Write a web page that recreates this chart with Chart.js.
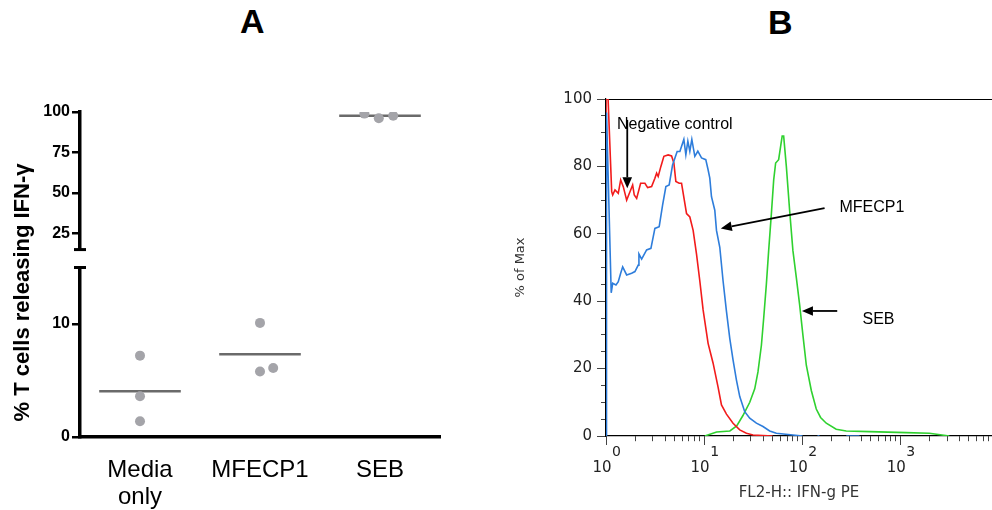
<!DOCTYPE html>
<html lang="en">
<head>
<meta charset="UTF-8">
<title>IFN-gamma release by T cells</title>
<script src="https://cdn.jsdelivr.net/npm/chart.js"></script>
<style>
  body { margin: 0; width: 992px; height: 510px; overflow: hidden; background: #fff; position: relative;
         font-family: "Liberation Sans", Arial, sans-serif; }
  .tag { position: absolute; font-weight: bold; font-size: 34px; line-height: 34px; color: #000; }
  #wrapA { position: absolute; left: 0; top: 0; }
  #wrapB { position: absolute; left: 500px; top: 60px; }
</style>
</head>
<body>
<div class="tag" style="left:240px; top:4px;">A</div>
<div class="tag" style="left:768px; top:5px;">B</div>
<div id="wrapA"><canvas id="chartA" width="460" height="510"></canvas></div>
<div id="wrapB"><canvas id="chartB" width="492" height="450"></canvas></div>

<script>
// ---- panel A: % T cells releasing IFN-g ----
const groupNames = [['Media', 'only'], 'MFECP1', 'SEB'];
const groupPos = [1, 2, 3];
const mediaX = [1, 1, 1];
const mediaY = [7.2, 3.6, 1.4];
const mfecpX = [2, 2, 2.11];
const mfecpY = [10.1, 5.8, 6.1];
const sebX = [2.87, 2.99, 3.11];
const sebY = [99, 96.1, 97.7];
const groupMeans = [4.05, 7.33, 97.7];
const lowTicks = [0, 10];
const highTicks = [25, 50, 75, 100];
const axisBreak = 15;

// ---- panel B: histogram, % of max vs FL2-H (log) ----
const negControl = [[1, 0], [1, 100], [1.05, 100], [1.143, 72.5], [1.17, 71.5], [1.235, 73], [1.334, 72], [1.411, 76],
  [1.5, 74], [1.624, 70], [1.755, 72.5], [1.869, 74.5], [1.941, 71.5], [2.053, 70.5], [2.254, 75], [2.493, 75],
  [2.657, 73.7], [2.917, 74], [3.151, 76.5], [3.28, 78], [3.404, 77], [3.627, 80], [3.89, 83], [4.303, 83.4],
  [4.66, 83.1], [4.918, 81], [5.153, 75.5], [5.567, 75], [5.889, 75], [6.622, 66], [7.153, 65], [7.731, 61],
  [8.369, 54], [9.044, 46], [9.768, 37.4], [10.98, 27.5], [12.35, 21.6], [13.88, 14.5], [15.03, 9.2], [16.9, 6.5],
  [19.72, 3.8], [23.08, 1.8], [27, 0.8], [31.5, 0.3], [50, 0]];
const mfecp1 = [[1, 0], [1.012, 96], [1.13, 42.5], [1.17, 45.3], [1.264, 44.8], [1.334, 45.8], [1.411, 48.3],
  [1.479, 50.2], [1.624, 47.8], [1.826, 48.3], [1.972, 48.8], [2.131, 50.7], [2.166, 54], [2.308, 52.5],
  [2.594, 55.2], [2.87, 55.7], [3.151, 61.6], [3.485, 62.1], [3.774, 68.5], [4.077, 74], [4.405, 74.5],
  [4.769, 80.4], [5.313, 84.4], [5.66, 84.4], [6.216, 88], [6.514, 83.5], [6.826, 87.5], [7.153, 84.5],
  [7.496, 88], [8.043, 83], [8.627, 84.5], [9.41, 82.5], [10.4, 82], [10.98, 79], [11.43, 76.5], [11.89, 71],
  [12.85, 67], [13.37, 61], [14.45, 56], [15.61, 46], [16.9, 37], [18.26, 29], [19.72, 22.6], [21.36, 16.6],
  [23.08, 11.7], [25.94, 7.2], [29.17, 5.3], [34.13, 3.8], [39.83, 2.8], [46.6, 1.5], [54.5, 0.8], [80.4, 0.3],
  [100.9, 0], [120, null], [143, 0], [150, 0], [200, null], [281, 0], [384, 0]];
const seb = [[10.17, 0], [13.4, 1.2], [18.3, 1.5], [21.5, 3], [24.8, 6], [29.2, 10], [32.8, 14], [35.4, 19],
  [38.4, 27], [40.5, 35], [43.1, 45], [45.5, 55], [48.5, 66], [51.2, 76], [53.6, 81], [57.5, 82], [60.3, 86],
  [62.5, 89], [64.7, 89], [68.9, 80], [74.4, 67], [80.4, 55], [87.1, 47], [94.1, 39], [101.6, 30], [110.1, 21],
  [123.8, 13.5], [139.1, 8], [153.9, 5.5], [175.9, 3.8], [222, 2], [281, 1.5], [485, 1.3], [1146, 1], [1977, 0.8],
  [3158, 0]];
const xDecades = [1, 10, 100, 1000];
const xDecadeExp = ['0', '1', '2', '3'];
const xMinor = [2, 3, 4, 5, 6, 7, 8, 9, 20, 30, 40, 50, 60, 70, 80, 90, 200, 300, 400, 500, 600, 700, 800, 900,
  2000, 3000, 4000, 5000, 6000, 7000, 8000];
const yMajor = [0, 20, 40, 60, 80, 100];
const yMinor = [5, 10, 15, 25, 30, 35, 45, 50, 55, 65, 70, 75, 85, 90, 95];
const notes = [
  { text: 'Negative control', at: [1.294, 92.3], from: [1.647, 93.8], to: [1.647, 73.5] },
  { text: 'MFECP1', at: [240, 67.7], from: [169, 67.6], to: [14.79, 61.6] },
  { text: 'SEB', at: [411.6, 34.6], from: [227.5, 37.1], to: [99.3, 37.1] }
];

Chart.defaults.font.family = '"Liberation Sans", Arial, sans-serif';
Chart.defaults.animation = false;

const pts = (xs, ys) => xs.map((x, i) => ({ x: x, y: ys[i] }));
const side = v => (v > axisBreak ? 'yHigh' : 'yLow');
const meanHalf = 0.34;

const dotStyle = { showLine: false, pointRadius: 5, pointBackgroundColor: '#a4a4a9', pointBorderWidth: 0 };
const dotSets = [[mediaX, mediaY], [mfecpX, mfecpY], [sebX, sebY]].map(([xs, ys]) =>
  Object.assign({ data: pts(xs, ys), yAxisID: side(ys[0]) }, dotStyle));
const meanSets = groupMeans.map((m, i) => ({
  data: [{ x: groupPos[i] - meanHalf, y: m }, { x: groupPos[i] + meanHalf, y: m }],
  yAxisID: side(m), showLine: true, pointRadius: 0, borderColor: '#6a6a6a', borderWidth: 2.5
}));

const breakMarks = {
  id: 'breakMarks',
  afterDraw(chart) {
    const { ctx, scales: { yLow, yHigh } } = chart;
    const x = yLow.right;
    ctx.save();
    ctx.strokeStyle = '#000';
    ctx.lineWidth = 3;
    [yHigh.bottom, yLow.top].forEach(y => {
      ctx.beginPath(); ctx.moveTo(x - 6, y); ctx.lineTo(x + 6, y); ctx.stroke();
    });
    ctx.translate(x - 57, (yHigh.top + yLow.bottom) / 2 + 18);
    ctx.rotate(-Math.PI / 2);
    ctx.font = 'bold 22px "Liberation Sans"';
    ctx.fillStyle = '#000';
    ctx.textAlign = 'center';
    ctx.textBaseline = 'middle';
    ctx.fillText('% T cells releasing IFN-\u03b3', 0, 0);
    ctx.restore();
  }
};

const yTickFontA = { size: 16, weight: 'bold' };
const yPartA = (min, max, weight, ticks) => ({
  type: 'linear', position: 'left', stack: 'left', stackWeight: weight, min: min, max: max,
  afterBuildTicks: s => { s.ticks = ticks.map(v => ({ value: v })); },
  afterFit: s => { s.width = 80; },
  grid: { drawOnChartArea: false, color: '#000', lineWidth: 2.5, tickLength: 8 },
  border: { color: '#000', width: 3.5 },
  ticks: { color: '#000', font: yTickFontA, padding: 2, autoSkip: false }
});

new Chart(document.getElementById('chartA'), {
  type: 'scatter',
  data: { datasets: dotSets.concat(meanSets) },
  options: {
    responsive: false,
    layout: { padding: { top: 112, right: 20, left: 0, bottom: 0 } },
    plugins: { legend: { display: false }, tooltip: { enabled: false } },
    scales: {
      x: {
        type: 'linear', min: 0.5, max: 3.5,
        afterBuildTicks: s => { s.ticks = groupPos.map(v => ({ value: v })); },
        afterFit: s => { s.height = 73; },
        grid: { display: false },
        border: { color: '#000', width: 3.5 },
        ticks: {
          color: '#000', font: { size: 24, lineHeight: 1.12 }, padding: 12, autoSkip: false, maxRotation: 0,
          callback: v => groupNames[groupPos.indexOf(v)]
        }
      },
      yLow: yPartA(0, axisBreak, 170, lowTicks),
      yGap: {
        type: 'linear', position: 'left', stack: 'left', stackWeight: 18,
        afterFit: s => { s.width = 80; },
        grid: { display: false }, border: { display: false }, ticks: { display: false }
      },
      yHigh: yPartA(axisBreak, 100, 138, highTicks)
    }
  },
  plugins: [breakMarks]
});

// ---- panel B ----
const asXY = arr => arr.map(([x, y]) => ({ x: x, y: y }));
const curve = (arr, color) => ({
  data: asXY(arr), showLine: true, pointRadius: 0, borderColor: color, borderWidth: 1.6, tension: 0, spanGaps: false
});
const fontB = { family: '"DejaVu Sans", sans-serif', size: 15 };
const xLabelShift = -4;
const xLabelPad = 14;

const xTicksB = xDecades.map(v => ({ value: v, major: true }))
  .concat(xMinor.map(v => ({ value: v, major: false })))
  .sort((a, b) => a.value - b.value);
const yTicksB = yMajor.map(v => ({ value: v, major: true }))
  .concat(yMinor.map(v => ({ value: v, major: false })))
  .sort((a, b) => a.value - b.value);

const extras = {
  id: 'extras',
  afterDraw(chart) {
    const { ctx, scales: { x, y } } = chart;
    ctx.save();
    // exponents of the decade labels
    ctx.fillStyle = '#222';
    ctx.textAlign = 'left';
    ctx.textBaseline = 'middle';
    const labelMid = x.top + 9 + xLabelPad + 9;
    ctx.font = '15px "DejaVu Sans"';
    const w = ctx.measureText('10').width;
    ctx.font = '14px "DejaVu Sans"';
    xDecades.forEach((v, i) => {
      ctx.fillText(xDecadeExp[i], x.getPixelForValue(v) + xLabelShift + w / 2 + 0.5, labelMid - 16);
    });
    // annotations with arrows
    ctx.strokeStyle = '#000';
    ctx.fillStyle = '#000';
    ctx.lineWidth = 1.8;
    notes.forEach(n => {
      const x0 = x.getPixelForValue(n.from[0]), y0 = y.getPixelForValue(n.from[1]);
      const x1 = x.getPixelForValue(n.to[0]), y1 = y.getPixelForValue(n.to[1]);
      const a = Math.atan2(y1 - y0, x1 - x0);
      const hl = 11, hw = 4.8;
      const bx = x1 - hl * Math.cos(a), by = y1 - hl * Math.sin(a);
      ctx.beginPath(); ctx.moveTo(x0, y0); ctx.lineTo(bx, by); ctx.stroke();
      ctx.beginPath();
      ctx.moveTo(x1, y1);
      ctx.lineTo(bx + hw * Math.sin(a), by - hw * Math.cos(a));
      ctx.lineTo(bx - hw * Math.sin(a), by + hw * Math.cos(a));
      ctx.closePath(); ctx.fill();
      ctx.font = '16px "Liberation Sans"';
      ctx.textAlign = 'left';
      ctx.textBaseline = 'middle';
      ctx.fillText(n.text, x.getPixelForValue(n.at[0]), y.getPixelForValue(n.at[1]));
    });
    ctx.restore();
  }
};

new Chart(document.getElementById('chartB'), {
  type: 'scatter',
  data: {
    datasets: [curve(mfecp1, '#2e7ddb'), curve(negControl, '#f21b1b'), curve(seb, '#2fd12f')]
  },
  options: {
    responsive: false,
    layout: { padding: { top: 39, right: 0, left: 0, bottom: 0 } },
    plugins: { legend: { display: false }, tooltip: { enabled: false } },
    scales: {
      x: {
        type: 'logarithmic', position: 'bottom', min: 1, max: 8600,
        afterBuildTicks: s => { s.ticks = xTicksB.map(t => ({ value: t.value, major: t.major })); },
        afterFit: s => { s.height = 74; s.paddingLeft = 0; s.paddingRight = 0; },
        grid: {
          drawOnChartArea: false, tickLength: 9, color: '#444', lineWidth: 1,
          tickBorderDash: c => (c.tick && !c.tick.major ? [5, 20] : [])
        },
        border: { color: '#000', width: 1.2 },
        ticks: {
          color: '#222', font: fontB, padding: xLabelPad, autoSkip: false, maxRotation: 0, labelOffset: xLabelShift,
          callback: (v, i, t) => (t[i].major ? '10' : '')
        },
        title: {
          display: true, text: 'FL2-H:: IFN-g PE', color: '#333',
          font: { family: '"DejaVu Sans", sans-serif', size: 15 }, padding: { bottom: 8, top: 0 }
        }
      },
      xTop: {
        type: 'linear', position: 'top',
        afterFit: s => { s.height = 0; s.paddingLeft = 0; s.paddingRight = 0; },
        grid: { display: false }, ticks: { display: false },
        border: { color: '#000', width: 1 }
      },
      y: {
        min: 0, max: 100,
        afterBuildTicks: s => { s.ticks = yTicksB.map(t => ({ value: t.value, major: t.major })); },
        afterFit: s => { s.width = 106; },
        grid: {
          drawOnChartArea: false, tickLength: 9, color: '#444', lineWidth: 1,
          tickBorderDash: c => (c.tick && !c.tick.major ? [0, 4, 5, 20] : [])
        },
        border: { color: '#000', width: 1.2 },
        ticks: {
          color: '#222', font: fontB, padding: 5, autoSkip: false,
          callback: (v, i, t) => (t[i].major ? String(v) : '')
        },
        title: {
          display: true, text: '% of Max', color: '#333',
          font: { family: '"DejaVu Sans", sans-serif', size: 13 }, padding: { top: 13, bottom: 0 }
        }
      }
    }
  },
  plugins: [extras]
});
</script>
</body>
</html>
